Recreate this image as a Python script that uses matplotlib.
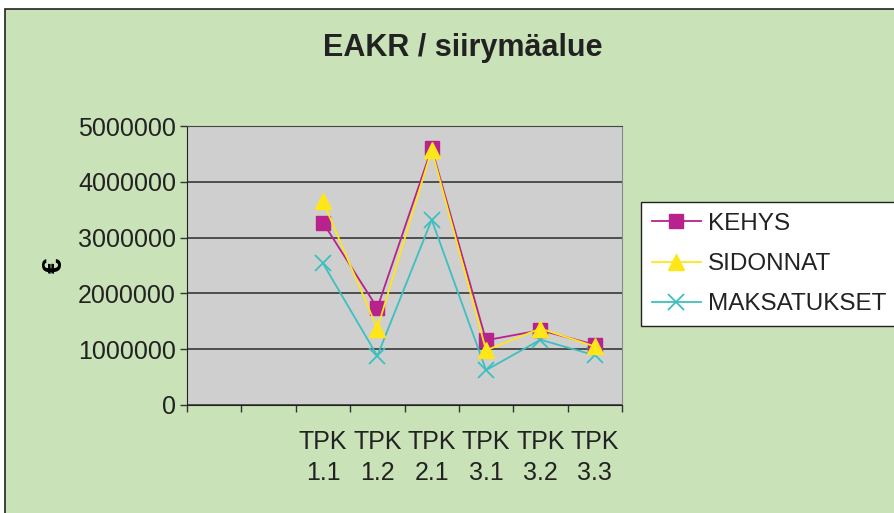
import numpy as np
import matplotlib
matplotlib.use('Agg')
import matplotlib.pyplot as plt
from matplotlib.patches import Rectangle
from matplotlib.ticker import FixedLocator, NullFormatter

# data (first two categories are empty)
categories = ['', '', 'TPK\n1.1', 'TPK\n1.2', 'TPK\n2.1', 'TPK\n3.1', 'TPK\n3.2', 'TPK\n3.3']
kehys = [np.nan, np.nan, 3270000, 1740000, 4600000, 1160000, 1340000, 1080000]
sidonnat = [np.nan, np.nan, 3650000, 1370000, 4570000, 980000, 1370000, 1050000]
maksatukset = [np.nan, np.nan, 2540000, 880000, 3320000, 625000, 1170000, 890000]
yticks = [0, 1000000, 2000000, 3000000, 4000000, 5000000]

plt.rcParams['font.family'] = ['Liberation Sans', 'DejaVu Sans']

W, H = 895, 513
fig = plt.figure(figsize=(W / 100, H / 100), dpi=100)
fig.patch.set_facecolor('white')
bg = Rectangle((5 / W, -0.1), 1.1, 1 - 9 / H + 0.1, transform=fig.transFigure,
               facecolor='#C9E2B8', edgecolor='#222222', linewidth=1.2, zorder=-10)
fig.patches.append(bg)

ax = fig.add_axes([187 / W, 1 - 405 / H, 435 / W, 279 / H])
ax.set_facecolor('#CFCFCF')

x = np.arange(len(categories))
ax.plot(x, kehys, color='#B8228C', marker='s', markersize=10, linewidth=1.3, label='KEHYS', zorder=3)
ax.plot(x, sidonnat, color='#FFE619', marker='^', markersize=11, linewidth=1.3, label='SIDONNAT', zorder=4)
ax.plot(x, maksatukset, color='#3EBFBF', marker='x', markersize=11, markeredgewidth=1.3,
        linewidth=1.3, label='MAKSATUKSET', zorder=2)

ax.set_xlim(-0.5, len(categories) - 0.5)
ax.set_ylim(0, 5000000)
ax.set_yticks(yticks)
ax.set_yticklabels([str(v) for v in yticks], fontsize=18, color='#222222')
ax.yaxis.grid(True, color='#444444', linewidth=1.3)
ax.set_axisbelow(True)

ax.xaxis.set_major_locator(FixedLocator(np.arange(len(categories) + 1) - 0.5))
ax.xaxis.set_major_formatter(NullFormatter())
ax.xaxis.set_minor_locator(FixedLocator(x))
ax.set_xticklabels(categories, minor=True, fontsize=18, color='#222222', linespacing=1.35)
ax.tick_params(axis='x', which='minor', length=0, pad=18)
ax.tick_params(axis='x', which='major', length=5, width=1, color='#333333')
ax.tick_params(axis='y', length=5, width=1, color='#333333', pad=3)

ax.spines['left'].set_color('#222222')
ax.spines['bottom'].set_color('#222222')
ax.spines['top'].set_color('#444444')
ax.spines['right'].set_color('#888888')

ax.set_ylabel('€', fontsize=20, fontweight='bold', labelpad=7)

fig.text(463 / W, 1 - 48 / H, 'EAKR / siirymäalue', ha='center', va='center',
         fontsize=22, fontweight='bold', color='#222222')

leg = fig.legend(loc='upper left', bbox_to_anchor=(641 / W, 1 - 202 / H), fontsize=17.5,
                 frameon=True, fancybox=False, edgecolor='#222222', facecolor='white',
                 framealpha=1, borderaxespad=0, handlelength=2.0, labelspacing=0.75,
                 borderpad=0.45, handletextpad=0.3)
leg.get_frame().set_linewidth(1.0)
for t in leg.get_texts():
    t.set_color('#222222')

fig.savefig('out.png', dpi=100)
